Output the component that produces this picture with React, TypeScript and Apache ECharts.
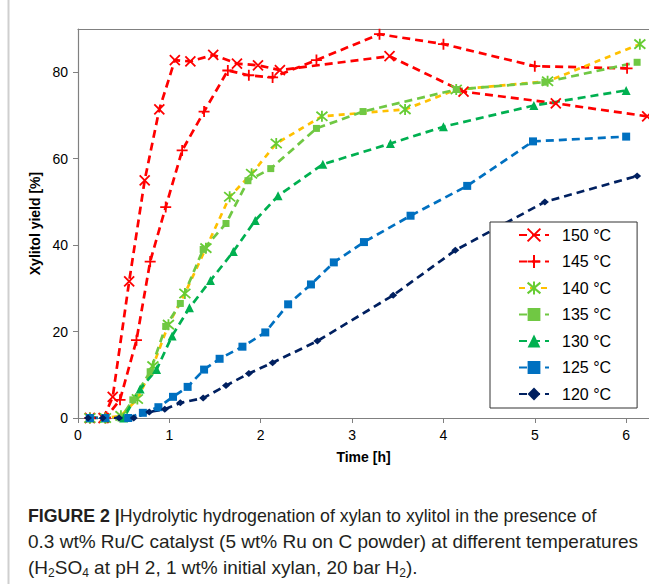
import React, { useEffect, useRef } from "react";
import * as echarts from "echarts";

const FONT = "'Liberation Sans', Arial, Helvetica, sans-serif";

const legendNames = ["150 °C", "145 °C", "140 °C", "135 °C", "130 °C", "125 °C", "120 °C"];

const t150 = [0.13, 0.28, 0.38, 0.56, 0.73, 0.89, 1.06, 1.23, 1.48, 1.74, 1.97, 2.21, 3.41, 4.22, 5.23, 6.23];
const y150 = [0, 0, 4.9, 31.6, 55, 71.4, 82.8, 82.5, 84, 82, 81.6, 80.5, 83.7, 75.5, 72.8, 69.8];

const t145 = [0.13, 0.3, 0.46, 0.64, 0.79, 0.96, 1.14, 1.38, 1.64, 1.87, 2.13, 2.61, 3.3, 4.0, 5.0, 6.01];
const y145 = [0, 0, 4.2, 18, 36.2, 48.8, 61.9, 70.9, 80.4, 79.3, 78.8, 82.8, 88.8, 86.5, 81.4, 80.9];

const t140 = [0.13, 0.3, 0.47, 0.65, 0.82, 0.99, 1.17, 1.4, 1.66, 1.9, 2.17, 2.67, 3.58, 4.14, 5.14, 6.15];
const y140 = [0, 0, 0.5, 4.4, 12, 21.6, 28.8, 39.3, 51.2, 56.5, 63.5, 69.8, 71.4, 76, 77.9, 86.5];

const t135 = [0.13, 0.3, 0.47, 0.6, 0.79, 0.96, 1.12, 1.37, 1.62, 1.86, 2.11, 2.61, 3.12, 4.14, 5.11, 6.12];
const y135 = [0, 0, 0, 4.2, 10.7, 21.2, 26.5, 39, 45, 54.9, 57.7, 67, 70.9, 76, 77.7, 82.3];

const t130 = [0.13, 0.3, 0.5, 0.68, 0.86, 1.03, 1.22, 1.45, 1.7, 1.94, 2.19, 2.68, 3.42, 4.0, 4.99, 6.0];
const y130 = [0, 0, 0, 6.7, 11.2, 19, 25.5, 31.8, 38.5, 45.7, 51.4, 58.7, 63.5, 67.4, 72.3, 75.8];

const t125 = [0.13, 0.3, 0.55, 0.71, 0.88, 1.04, 1.2, 1.38, 1.55, 1.8, 2.05, 2.3, 2.55, 2.8, 3.13, 3.64, 4.26, 4.98, 6.0];
const y125 = [0, 0, 0, 1.2, 2.5, 4.9, 7.2, 11.2, 13.7, 16.5, 19.8, 26.3, 30.9, 36, 40.7, 46.8, 53.7, 64, 65.1];

const t120 = [0.11, 0.27, 0.45, 0.61, 0.78, 0.95, 1.12, 1.37, 1.62, 1.87, 2.13, 2.62, 3.45, 4.13, 5.11, 6.12];
const y120 = [0, 0, 0, 0, 1.4, 2, 3.5, 4.6, 7.5, 10.3, 12.8, 17.8, 28.4, 38.8, 50, 56];

const xTicks = [0, 1, 2, 3, 4, 5, 6];
const yTicks = [0, 20, 40, 60, 80];

const captionLine1 = "{b|FIGURE 2 |}Hydrolytic hydrogenation of xylan to xylitol in the presence of";
const captionLine2 = "0.3 wt% Ru/C catalyst (5 wt% Ru on C powder) at different temperatures";
const captionLine3 = "(H{sub|2}SO{sub|4} at pH 2, 1 wt% initial xylan, 20 bar H{sub|2}).";

const pair = (xs: number[], ys: number[]) => xs.map((x, i) => [x, ys[i]]);

const SYM_X = "path://M0,0L10,10M10,0L0,10";
const SYM_PLUS = "path://M5,0L5,10M0,5L10,5";
const SYM_STAR = "path://M0.8,0.8L9.2,9.2M9.2,0.8L0.8,9.2M5,0L5,10";

function makeSeries(
  name: string,
  data: number[][],
  lineColor: string,
  markColor: string,
  symbol: string,
  symbolSize: number | number[],
  stroked: boolean,
  dash: number[]
) {
  return {
    name,
    type: "line",
    data,
    symbol,
    symbolSize,
    showSymbol: true,
    lineStyle: { color: lineColor, width: 2.7, type: dash },
    itemStyle: stroked
      ? { color: markColor, borderColor: markColor, borderWidth: 1.8 }
      : { color: markColor, borderWidth: 0 },
    emphasis: { disabled: true },
  };
}

export default function App() {
  const ref = useRef<HTMLDivElement>(null);
  useEffect(() => {
    if (!ref.current) return;
    const chart = echarts.init(ref.current, null, { renderer: "svg" });
    const dash = [8, 5];
    const option = {
      animation: false,
      textStyle: { fontFamily: FONT },
      grid: { left: 78, right: 0, top: 29, bottom: 166, containLabel: false },
      xAxis: [
        {
          type: "value",
          min: 0,
          max: 6.25,
          interval: 1,
          name: "Time [h]",
          nameLocation: "middle",
          nameGap: 32,
          nameTextStyle: { fontFamily: FONT, fontWeight: "bold", fontSize: 14, color: "#000" },
          axisLine: { show: true, lineStyle: { color: "#808080", width: 1.2 } },
          axisTick: { show: true, length: 5, customValues: xTicks, lineStyle: { color: "#808080" } },
          axisLabel: { customValues: xTicks, margin: 10, fontSize: 14, color: "#000", fontFamily: FONT },
          splitLine: { show: false },
        },
        {
          type: "value",
          position: "top",
          min: 0,
          max: 6.25,
          axisLine: { show: true, onZero: false, lineStyle: { color: "#808080", width: 1.2 } },
          axisTick: { show: false },
          axisLabel: { show: false },
          splitLine: { show: false },
        },
      ],
      yAxis: {
        type: "value",
        min: 0,
        max: 90,
        interval: 20,
        name: "Xylitol yield [%]",
        nameLocation: "middle",
        nameGap: 34,
        nameTextStyle: { fontFamily: FONT, fontWeight: "bold", fontSize: 14, color: "#000" },
        axisLine: { show: true, lineStyle: { color: "#808080", width: 1.2 } },
        axisTick: { show: true, length: 5, customValues: yTicks, lineStyle: { color: "#808080" } },
        axisLabel: { customValues: yTicks, margin: 10, fontSize: 14, color: "#000", fontFamily: FONT },
        splitLine: { show: false },
      },
      legend: {
        orient: "vertical",
        left: 490,
        top: 222,
        data: legendNames,
        itemWidth: 30,
        itemHeight: 16,
        itemGap: 10.5,
        padding: [5, 26, 6, 28],
        borderColor: "#333",
        borderWidth: 1,
        backgroundColor: "#fff",
        selectedMode: false,
        textStyle: { fontFamily: FONT, fontSize: 16, color: "#000", lineHeight: 16, padding: [0, 0, 0, 8] },
      },
      series: [
        makeSeries(legendNames[0], pair(t150, y150), "#FF0000", "#FF0000", SYM_X, 10, true, dash),
        makeSeries(legendNames[1], pair(t145, y145), "#FF0000", "#FF0000", SYM_PLUS, 11, true, dash),
        makeSeries(legendNames[2], pair(t140, y140), "#FFC000", "#66CC33", SYM_STAR, 11, true, [6, 5]),
        makeSeries(legendNames[3], pair(t135, y135), "#70C843", "#70C843", "rect", 7, false, dash),
        makeSeries(legendNames[4], pair(t130, y130), "#00B050", "#00B050", "triangle", 9, false, dash),
        makeSeries(legendNames[5], pair(t125, y125), "#0070C0", "#0070C0", "rect", 8, false, dash),
        makeSeries(legendNames[6], pair(t120, y120), "#002060", "#002060", "diamond", [8, 7], false, dash),
      ],
      graphic: [
        {
          type: "line",
          shape: { x1: 8.5, y1: 0, x2: 8.5, y2: 584 },
          style: { stroke: "#cfcfcf", lineWidth: 2 },
          silent: true,
        },
        {
          type: "text",
          x: 28,
          y: 515,
          scaleX: 0.935,
          style: {
            text: captionLine1,
            fontFamily: FONT,
            fontSize: 19,
            fill: "#231F20",
            verticalAlign: "middle",
            rich: { b: { fontFamily: FONT, fontSize: 19, fontWeight: "bold", fill: "#231F20" } },
          },
        },
        {
          type: "text",
          x: 28,
          y: 541,
          style: { text: captionLine2, fontFamily: FONT, fontSize: 19, fill: "#231F20", verticalAlign: "middle" },
        },
        {
          type: "text",
          x: 28,
          y: 567,
          style: {
            text: captionLine3,
            fontFamily: FONT,
            fontSize: 19,
            lineHeight: 24,
            fill: "#231F20",
            verticalAlign: "middle",
            rich: {
              sub: { fontFamily: FONT, fontSize: 12, lineHeight: 12, verticalAlign: "bottom", fill: "#231F20" },
            },
          },
        },
      ],
    };
    chart.setOption(option as any);
    return () => chart.dispose();
  }, []);
  return (
    <div
      ref={ref}
      style={{ position: "absolute", left: 0, top: 0, width: 649, height: 584, background: "#fff" }}
    />
  );
}
